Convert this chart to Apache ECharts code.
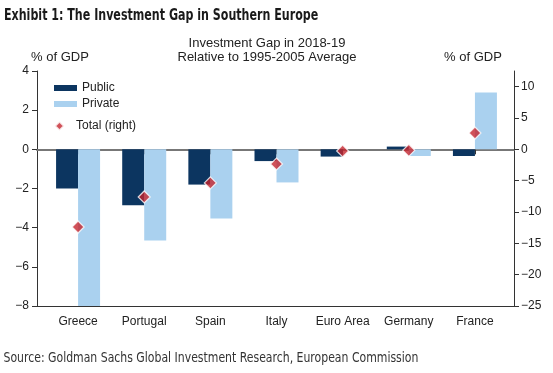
<!DOCTYPE html>
<html><head><meta charset="utf-8">
<script src="https://cdn.jsdelivr.net/npm/echarts@6/dist/echarts.min.js"></script>
<style>html,body{margin:0;padding:0;background:#fff}#c{width:553px;height:373px}</style>
</head><body><div id="c"></div>
<script>
const categories = ['Greece','Portugal','Spain','Italy','Euro Area','Germany','France'];
const publicGap  = [-2.0, -2.85, -1.8, -0.6, -0.37, 0.14, -0.34];
const privateGap = [-8.0, -4.65, -3.53, -1.69, 0.0, -0.34, 2.9];
const totalGap   = [-12.4, -7.6, -5.36, -2.34, -0.27, -0.16, 2.6];

const chart = echarts.init(document.getElementById('c'));
const F = 'Liberation Sans, Arial, sans-serif';
const COND = '"DejaVu Sans Condensed", sans-serif';
const txt = '#222';
const axisCol = '#333';
const minus = v => String(v).replace('-', '\u2212');
chart.setOption({
  animation: false,
  backgroundColor: '#fff',
  graphic: [
    {type: 'text', x: 4, y: 15.5, scaleX: 0.77,
     style: {text: 'Exhibit 1: The Investment Gap in Southern Europe', font: 'bold 16px ' + COND, fill: '#1a1a1a', textVerticalAlign: 'middle'}},
    {type: 'text', x: 3.5, y: 358, scaleX: 0.865,
     style: {text: 'Source: Goldman Sachs Global Investment Research, European Commission', font: '14px ' + COND, fill: '#333', textVerticalAlign: 'middle'}}
  ],
  title: [
    {text: 'Investment Gap in 2018-19\nRelative to 1995-2005 Average', left: 262, top: 31, textAlign: 'center',
     textStyle: {fontFamily: F, fontWeight: 'normal', fontSize: 13, lineHeight: 14, color: txt}},
    {text: '% of GDP', left: 55, top: 46, textAlign: 'center',
     textStyle: {fontFamily: F, fontWeight: 'normal', fontSize: 13, color: txt}},
    {text: '% of GDP', left: 468, top: 46, textAlign: 'center',
     textStyle: {fontFamily: F, fontWeight: 'normal', fontSize: 13, color: txt}}
  ],
  legend: [
    {orient: 'vertical', left: 49, top: 77, itemWidth: 23, itemHeight: 6, itemGap: 4,
     textStyle: {fontFamily: F, fontSize: 12, color: txt},
     data: [{name: 'Public', icon: 'rect'}, {name: 'Private', icon: 'rect'}]},
    {orient: 'vertical', left: 49, top: 115, itemWidth: 23, itemHeight: 9,
     textStyle: {fontFamily: F, fontSize: 12, color: txt},
     data: [{name: 'Total (right)', icon: 'path://M0,-1L1,0L0,1L-1,0Z'}]}
  ],
  grid: [
    {left: 45, right: 45, top: 71, bottom: 67},
    {left: 37, right: 39, top: 71, bottom: 67},
    {left: 37, right: 39, top: 71, bottom: 67}
  ],
  xAxis: [
    {type: 'category', gridIndex: 0, data: categories,
     axisLine: {show: false},
     axisTick: {show: true, alignWithLabel: true, length: 5, lineStyle: {color: axisCol}},
     axisLabel: {interval: 0, fontFamily: F, fontSize: 12, color: txt, margin: 10}},
    {type: 'value', gridIndex: 1, min: 0, max: 1, axisLine: {show: true, onZero: false, lineStyle: {color: axisCol, width: 1}},
     axisTick: {show: false}, axisLabel: {show: false}, splitLine: {show: false}},
    {type: 'value', gridIndex: 2, min: 0, max: 1, axisLine: {show: true, onZero: true, lineStyle: {color: '#777', width: 2}},
     axisTick: {show: false}, axisLabel: {show: false}, splitLine: {show: false}}
  ],
  yAxis: [
    {type: 'value', gridIndex: 0, min: -8, max: 4, interval: 2, position: 'left', offset: 8,
     axisLine: {show: true, lineStyle: {color: axisCol}},
     axisTick: {show: true, length: 5, lineStyle: {color: axisCol}},
     axisLabel: {fontFamily: F, fontSize: 12, color: txt, margin: 8, formatter: minus},
     splitLine: {show: false}},
    {type: 'value', gridIndex: 0, min: -25, max: 12.5, interval: 5, position: 'right', offset: 6,
     axisLine: {show: true, lineStyle: {color: axisCol}},
     axisTick: {show: true, length: 5, lineStyle: {color: axisCol}},
     axisLabel: {fontFamily: F, fontSize: 12, color: txt, margin: 7, showMaxLabel: false, formatter: minus},
     splitLine: {show: false}},
    {type: 'value', gridIndex: 1, min: -8, max: 4, show: false},
    {type: 'value', gridIndex: 2, min: -8, max: 4, show: false}
  ],
  series: [
    {name: 'Public', type: 'bar', xAxisIndex: 0, yAxisIndex: 0, data: publicGap,
     barWidth: 22, barGap: '0%', itemStyle: {color: '#0c3560'}, z: 3},
    {name: 'Private', type: 'bar', xAxisIndex: 0, yAxisIndex: 0, data: privateGap,
     barWidth: 22, barGap: '0%', itemStyle: {color: '#aad1ef'}, z: 3},
    {name: 'Total (right)', type: 'scatter', xAxisIndex: 0, yAxisIndex: 1, data: totalGap,
     symbol: 'diamond', symbolSize: 12, itemStyle: {color: '#c4262e', borderColor: '#fff', borderWidth: 1.2}, z: 10}
  ]
});
</script></body></html>
